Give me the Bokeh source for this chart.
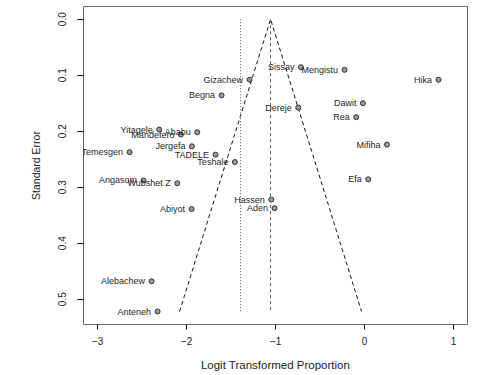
from bokeh.plotting import figure
from bokeh.models import FixedTicker, Range1d, PrintfTickFormatter, ColumnDataSource
from bokeh.core.properties import value
from bokeh.embed import file_html
from bokeh.resources import INLINE

# ---- data ----
studies = ["Sissay", "Mengistu", "Hika", "Gizachew", "Begna", "Dawit", "Dereje", "Rea",
           "Yitagele", "Ababu", "Mandefero", "Jergefa", "Mifiha", "Temesgen", "TADELE",
           "Teshale", "Efa", "Angasom", "Wubshet Z", "Hassen", "Aden", "Abiyot",
           "Alebachew", "Anteneh"]
logit_prop = [-0.716, -0.225, 0.831, -1.293, -1.608, -0.019, -0.746, -0.094,
              -2.309, -1.881, -2.065, -1.941, 0.251, -2.642, -1.675,
              -1.458, 0.041, -2.485, -2.106, -1.049, -1.012, -1.945,
              -2.395, -2.327]
std_err = [0.0857, 0.0904, 0.108, 0.108, 0.136, 0.150, 0.158, 0.175,
           0.197, 0.202, 0.206, 0.227, 0.224, 0.2375, 0.242,
           0.255, 0.286, 0.288, 0.293, 0.322, 0.3375, 0.339,
           0.468, 0.522]
pooled_estimate = -1.057
adjusted_estimate = -1.394
x_ticks = [-3, -2, -1, 0, 1]
y_ticks = [0.0, 0.1, 0.2, 0.3, 0.4, 0.5]

FONT = "Liberation Sans"

p = figure(width=485, height=375, output_backend="svg", toolbar_location=None,
           x_range=Range1d(-3.160, 1.157), y_range=Range1d(0.5452, -0.0227),
           min_border_left=83, min_border_right=18, min_border_top=6, min_border_bottom=51)
p.background_fill_color = "white"
p.border_fill_color = "white"
p.outline_line_color = "#666666"
p.grid.visible = False

se_max = max(std_err)
z = 1.96
# funnel
p.line([pooled_estimate - z * se_max, pooled_estimate, pooled_estimate + z * se_max],
       [se_max, 0, se_max], line_color="#111111", line_width=1, line_dash="4 3")
# vertical reference lines
p.segment(x0=[pooled_estimate], y0=[0], x1=[pooled_estimate], y1=[se_max],
          line_color="#555555", line_width=1, line_dash="3 3")
p.segment(x0=[adjusted_estimate], y0=[0], x1=[adjusted_estimate], y1=[se_max],
          line_color="#555555", line_width=1, line_dash="1 2")

src = ColumnDataSource(dict(x=logit_prop, y=std_err, name=studies))
p.scatter("x", "y", source=src, size=5, fill_color="#9a9a9a", line_color="#333333", line_width=1)
p.text("x", "y", text="name", source=src, x_offset=-6.5, text_align="right",
       text_baseline="middle", text_font=value(FONT), text_font_size="9px",
       text_color="#1e1e28")

for ax in (p.xaxis[0], p.yaxis[0]):
    ax.axis_line_color = None
    ax.major_tick_in = 0
    ax.minor_tick_line_color = None
    ax.major_tick_line_color = "#000000"
    ax.major_label_text_font = FONT
    ax.major_label_text_font_size = "10px"
    ax.major_label_text_color = "#222222"
    ax.axis_label_text_font = FONT
    ax.axis_label_text_font_style = "normal"
    ax.axis_label_text_color = "#222222"

p.xaxis.ticker = FixedTicker(ticks=x_ticks)
p.xaxis.major_tick_out = 5
p.xaxis.major_label_standoff = 7
p.xaxis.axis_label = "Logit Transformed Proportion"
p.xaxis.axis_label_text_font_size = "11.5px"
p.xaxis.axis_label_standoff = 11

p.yaxis.ticker = FixedTicker(ticks=y_ticks)
p.yaxis.formatter = PrintfTickFormatter(format="%.1f")
p.yaxis.major_tick_out = 6
p.yaxis.major_label_orientation = "vertical"
p.yaxis.major_label_standoff = 11
p.yaxis.axis_label = "Standard Error"
p.yaxis.axis_label_text_font_size = "10.5px"
p.yaxis.axis_label_standoff = 14

open("out.html", "w").write(file_html(p, INLINE))
